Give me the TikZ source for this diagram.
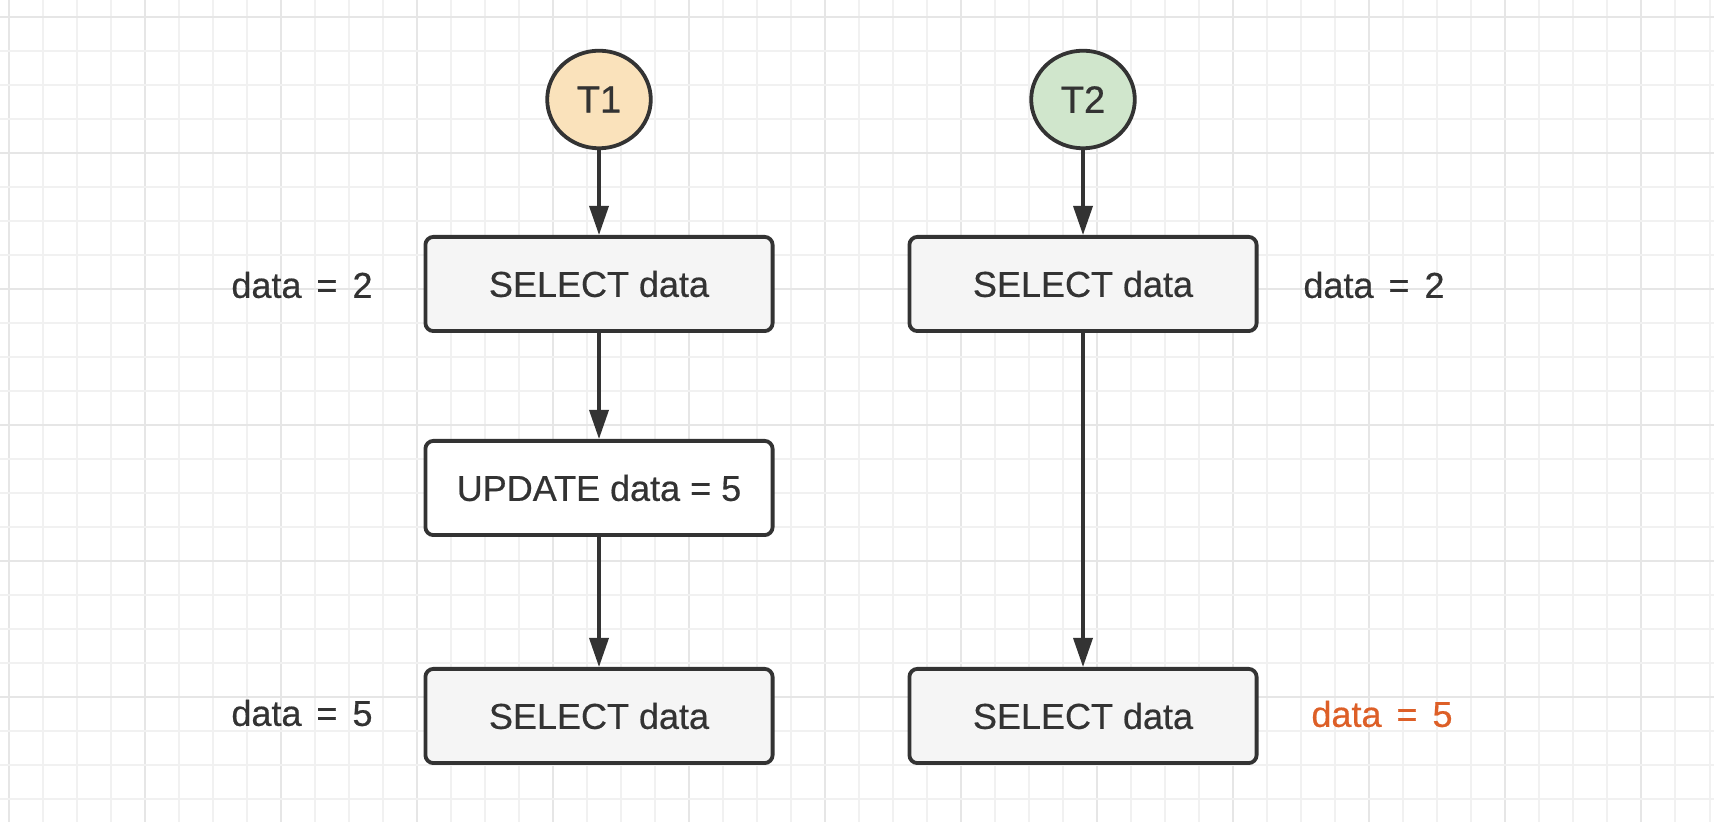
\documentclass[tikz,border=0pt]{standalone}
\usepackage{fontspec}
\setmainfont[RawFeature={embolden=0.5}]{Liberation Sans}
\usetikzlibrary{shapes.geometric,arrows.meta}
\definecolor{ink}{HTML}{333333}
\definecolor{gridminor}{HTML}{F1F1F1}
\definecolor{gridmajor}{HTML}{E6E6E6}
\definecolor{boxfill}{HTML}{F5F5F5}
\definecolor{tonefill}{HTML}{FAE2BB}
\definecolor{ttwofill}{HTML}{D0E6CC}
\definecolor{hot}{HTML}{DD5F27}
\newcommand\lblfontsel{\fontsize{18pt}{21pt}\selectfont\spaceskip 7.5pt\relax}
\tikzset{
  stmt/.style={draw=ink, line width=1.9pt, rounded corners=4pt, fill=boxfill,
    minimum width=173.6pt, minimum height=47.1pt, inner sep=0pt,
    text=ink, font=\fontsize{18pt}{21pt}\selectfont},
  plainstmt/.style={stmt, fill=white},
  txn/.style={draw=ink, line width=1.9pt, ellipse, minimum width=51.8pt, minimum height=48.8pt,
    inner sep=0pt, text=ink, font=\fontsize{19pt}{22pt}\selectfont},
  lbl/.style={inner sep=0pt, text=ink, font=\lblfontsel},
  flow/.style={draw=ink, line width=1.75pt, -{Triangle[length=14.5pt,width=9.5pt]}},
}
\begin{document}
\begin{tikzpicture}[x=0.5pt, y=-0.5pt]
\useasboundingbox (0,0) rectangle (1714,822);
\fill[white] (0,0) rectangle (1714,822);
% grid
\foreach \i in {0,...,50} {
  \pgfmathsetmacro{\xx}{8.5+34.02*\i}
  \pgfmathtruncatemacro{\m}{mod(\i,4)}
  \ifnum\m=0
    \draw[gridmajor, line width=1pt] (\xx,0) -- (\xx,822);
  \else
    \draw[gridminor, line width=1pt] (\xx,0) -- (\xx,822);
  \fi
}
\foreach \j in {0,...,23} {
  \pgfmathsetmacro{\yy}{16.7+34.02*\j}
  \pgfmathtruncatemacro{\m}{mod(\j,4)}
  \ifnum\m=0
    \draw[gridmajor, line width=1pt] (0,\yy) -- (1714,\yy);
  \else
    \draw[gridminor, line width=1pt] (0,\yy) -- (1714,\yy);
  \fi
}
% nodes
\node[txn, fill=tonefill] (t1) at (599,99.5) {T1};
\node[txn, fill=ttwofill] (t2) at (1083,99.5) {T2};
\node[stmt] (s1) at (599,284) {SELECT data};
\node[plainstmt] (u1) at (599,488) {UPDATE data = 5};
\node[stmt] (s3) at (599,716) {SELECT data};
\node[stmt] (s2) at (1083,284) {SELECT data};
\node[stmt] (s4) at (1083,716) {SELECT data};
\node[lbl] (l1) at (302,285) {data = 2};
\node[lbl] (l3) at (302,713) {data = 5};
\node[lbl] (l2) at (1374,285) {data = 2};
\node[lbl, text=hot] (l4) at (1382,714) {data = 5};
% connectors
\draw[flow] (t1) -- (s1);
\draw[flow] (s1) -- (u1);
\draw[flow] (u1) -- (s3);
\draw[flow] (t2) -- (s2);
\draw[flow] (s2) -- (s4);
\end{tikzpicture}
\end{document}
